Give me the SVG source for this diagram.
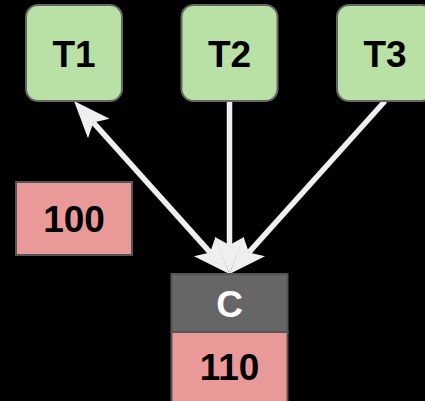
<svg xmlns="http://www.w3.org/2000/svg" width="425" height="401" viewBox="0 0 425 401">
  <style>
    .t { fill: #b9e0a5; stroke: #666666; stroke-width: 2; }
    .r { fill: #ea9999; stroke: #555555; stroke-width: 2; }
    .h { fill: #666666; stroke: #555555; stroke-width: 2; }
    .lbl { font-family: "Liberation Sans", Arial, Helvetica, sans-serif; font-weight: bold; font-size: 37px; text-anchor: middle; fill: #000000; }
    .wl { fill: #ffffff; }
    .e { stroke: #efefef; stroke-width: 5.5; fill: none; }
  </style>
  <defs>
    <marker id="arr" markerUnits="userSpaceOnUse" viewBox="-10 -16 42 32" refX="0" refY="0" markerWidth="42" markerHeight="32" orient="auto-start-reverse" overflow="visible">
      <path d="M29,0 L-8,-14.5 L0,0 L-8,14.5 Z" fill="#efefef"/>
    </marker>
  </defs>
  <rect width="425" height="401" fill="#000000"/>

  <g id="connectors">
    <line class="e" x1="93.4" y1="122.6" x2="210.1" y2="252.4" marker-start="url(#arr)" marker-end="url(#arr)"/>
    <line class="e" x1="229.5" y1="101" x2="229.5" y2="245" marker-end="url(#arr)"/>
    <line class="e" x1="385" y1="101" x2="248.9" y2="252.4" marker-end="url(#arr)"/>
  </g>

  <g id="T1">
    <rect class="t" x="26" y="5" width="96" height="96" rx="12"/>
    <text class="lbl" x="74" y="66.5">T1</text>
  </g>
  <g id="T2">
    <rect class="t" x="181.5" y="5" width="96" height="96" rx="12"/>
    <text class="lbl" x="229.5" y="66.5">T2</text>
  </g>
  <g id="T3">
    <rect class="t" x="337" y="5" width="96" height="96" rx="12"/>
    <text class="lbl" x="385" y="66.5">T3</text>
  </g>
  <g id="n100">
    <rect class="r" x="16" y="182" width="116" height="73"/>
    <text class="lbl" x="74" y="232">100</text>
  </g>
  <g id="C">
    <rect class="r" x="171.5" y="332" width="116" height="80"/>
    <rect class="h" x="171.5" y="274" width="116" height="58"/>
    <text class="lbl wl" x="229.5" y="316.5">C</text>
    <text class="lbl" x="229.5" y="380">110</text>
  </g>
</svg>
